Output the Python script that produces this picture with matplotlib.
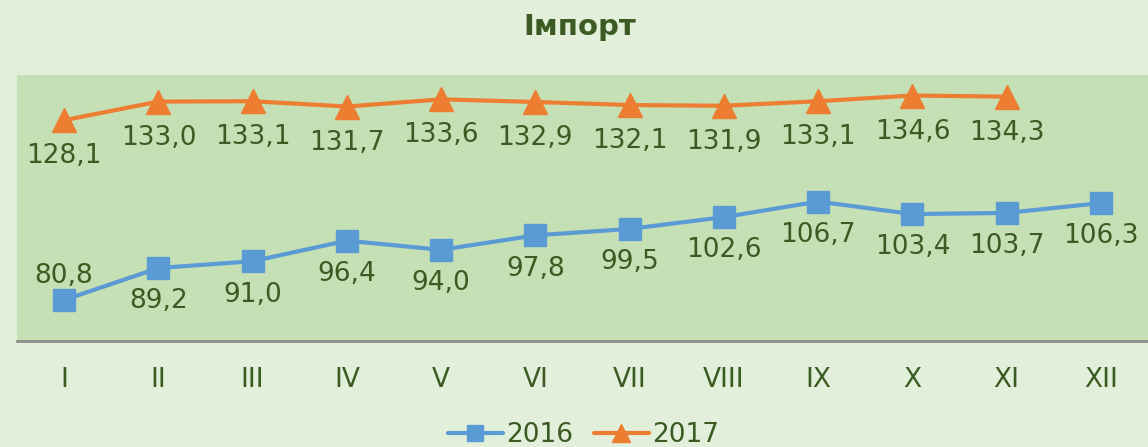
import matplotlib.pyplot as plt
import numpy as np

# data
months = ['I', 'II', 'III', 'IV', 'V', 'VI', 'VII', 'VIII', 'IX', 'X', 'XI', 'XII']
imp_2016 = [80.8, 89.2, 91.0, 96.4, 94.0, 97.8, 99.5, 102.6, 106.7, 103.4, 103.7, 106.3]
imp_2017 = [128.1, 133.0, 133.1, 131.7, 133.6, 132.9, 132.1, 131.9, 133.1, 134.6, 134.3]

txt = '#3b5b22'
blue = '#5b9bd5'
orange = '#ed7d31'

plt.rcParams['font.family'] = 'DejaVu Sans'

fig = plt.figure(figsize=(11.48, 4.47), dpi=100)
fig.patch.set_facecolor('#e2efda')
ax = fig.add_axes([17 / 1148, 1 - 341 / 447, 1 - 17 / 1148, (341 - 75) / 447])
ax.set_facecolor('#c5e0b4')

x16 = np.arange(len(imp_2016))
x17 = np.arange(len(imp_2017))
ax.plot(x16, imp_2016, color=blue, lw=3, marker='s', ms=16, label='2016',
        solid_capstyle='round')
ax.plot(x17, imp_2017, color=orange, lw=3, marker='^', ms=17, label='2017',
        solid_capstyle='round')

fmt = lambda v: f'{v:.1f}'.replace('.', ',')
for i, v in enumerate(imp_2017):
    ax.annotate(fmt(v), (i, v), xytext=(0, -26), textcoords='offset points',
                ha='center', va='center', fontsize=19, color=txt)
for i, v in enumerate(imp_2016):
    dy = 17 if i == 0 else -24
    ax.annotate(fmt(v), (i, v), xytext=(0, dy), textcoords='offset points',
                ha='center', va='center', fontsize=19, color=txt)

ax.set_xlim(-0.5, 11.5)
ax.set_ylim(70, 140)
ax.set_xticks(x16)
ax.set_xticklabels(months, fontsize=19, color=txt)
ax.tick_params(axis='x', length=0, pad=19)
ax.set_yticks([])
for s in ['top', 'right', 'left']:
    ax.spines[s].set_visible(False)
ax.spines['bottom'].set_color('#8c8c8c')
ax.spines['bottom'].set_linewidth(2)

fig.text(0.505, 1 - 27 / 447, 'Імпорт', ha='center', va='center',
         fontsize=21, fontweight='bold', color=txt)

leg = fig.legend(loc='lower center', bbox_to_anchor=(0.508, -0.055), ncol=2,
                 frameon=False, fontsize=19, handlelength=2.1, columnspacing=0.8,
                 handletextpad=0.1, markerscale=0.75)
for t in leg.get_texts():
    t.set_color(txt)

fig.savefig('out.png', dpi=100, facecolor=fig.get_facecolor())
